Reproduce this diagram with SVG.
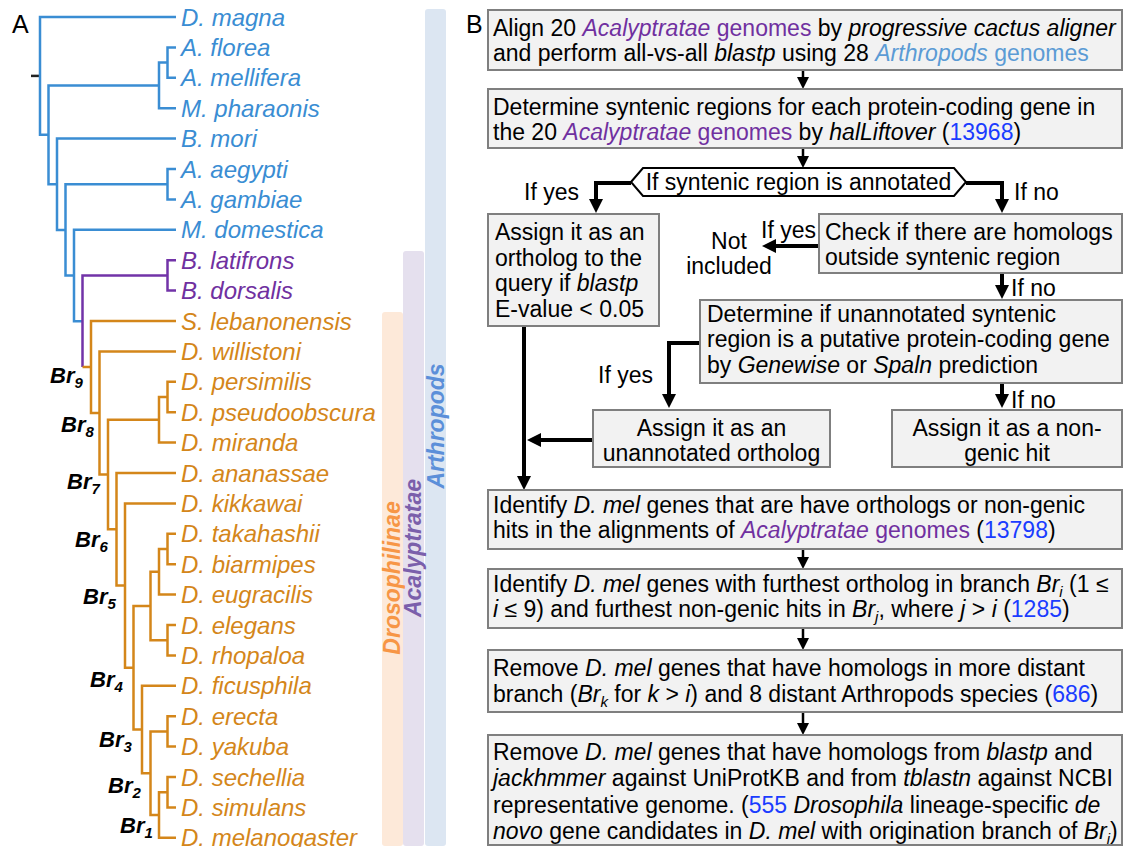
<svg xmlns="http://www.w3.org/2000/svg" width="1127" height="847" viewBox="0 0 1127 847">
<style>
.leaf{font-family:'Liberation Sans',Arial,sans-serif;font-style:italic;font-size:24px}
.b{fill:#3a8dd3}.p{fill:#7030a0}.o{fill:#d4861a}
.tb{fill:none;stroke:#3a8dd3;stroke-width:2.5}
.tp{fill:none;stroke:#7233a8;stroke-width:2.5}
.to{fill:none;stroke:#d4861a;stroke-width:2.5}
.br{font-family:'Liberation Sans',Arial,sans-serif;font-weight:bold;font-style:italic;font-size:22px;fill:#000}
.band{font-family:'Liberation Sans',Arial,sans-serif;font-weight:bold;font-style:italic;font-size:23px;text-anchor:middle}
.ft{font-family:'Liberation Sans',Arial,sans-serif;font-size:23px;fill:#000}
.mid{text-anchor:middle}
.i{font-style:italic}
.pu{fill:#7030a0}.lb{fill:#5b9bd5}.nb{fill:#1a3cff}
.box{fill:#f2f2f2;stroke:#7f7f7f;stroke-width:2}
.thin{fill:none;stroke:#000;stroke-width:2.5;marker-end:url(#ah)}
.thick{fill:none;stroke:#000;stroke-width:4;marker-end:url(#ahb)}
.lab{font-family:'Liberation Sans',Arial,sans-serif;font-size:25px;fill:#000}
</style>
<defs>
<marker id="ah" viewBox="0 0 12 12" refX="7" refY="6" markerWidth="12" markerHeight="12" markerUnits="userSpaceOnUse" orient="auto"><path d="M0,0 L12,6 L0,12 z" fill="#000"/></marker>
<marker id="ahb" viewBox="0 0 14 14" refX="8" refY="7" markerWidth="14" markerHeight="14" markerUnits="userSpaceOnUse" orient="auto"><path d="M0,0 L14,7 L0,14 z" fill="#000"/></marker>
</defs>
<rect width="1127" height="847" fill="#fff"/>

<!-- Panel labels -->
<text class="lab" x="12" y="33">A</text>
<text class="lab" x="466" y="33">B</text>

<!-- Clade bands -->
<g id="band-arthropods">
<rect x="425" y="9" width="21" height="837" rx="3" fill="#dce6f2"/>
<text class="band" fill="#5b8fd9" transform="translate(444,426) rotate(-90)">Arthropods</text>
</g>
<g id="band-acalyptratae">
<rect x="403" y="251" width="21" height="595" rx="3" fill="#e5e0ee"/>
<text class="band" fill="#7b5fab" transform="translate(421,548) rotate(-90)">Acalyptratae</text>
</g>
<g id="band-drosophilinae">
<rect x="382" y="312" width="21" height="534" rx="3" fill="#fde9d9"/>
<text class="band" fill="#f79646" transform="translate(400,578) rotate(-90)">Drosophilinae</text>
</g>

<!-- Tree -->
<g id="tree">
<path d="M31 75.9 H40" stroke="#222" stroke-width="2.5" fill="none"/>
<path class="tb" d="M176 17 H40 V134.8 H48.5"/>
<path class="tb" d="M159 85.4 H48.5 V184.2 H57"/>
<path class="tb" d="M167.5 62.6 H159 V108.2 H176"/>
<path class="tb" d="M176 47.4 H167.5 V77.8 H176"/>
<path class="tb" d="M176 138.6 H57 V229.9 H65.5"/>
<path class="tb" d="M167.5 184.2 H65.5 V275.5 H74"/>
<path class="tb" d="M176 169 H167.5 V199.4 H176"/>
<path class="tb" d="M176 229.8 H74 V321.2 H82.5"/>
<path class="tp" d="M167.5 275.4 H82.5 V367"/>
<path class="tp" d="M176 260.2 H167.5 V290.6 H176"/>
<path class="to" d="M82.5 367 H91"/>
<path class="to" d="M176 321 H91 V413 H99.5"/>
<path class="to" d="M176 351.4 H99.5 V474.5 H108"/>
<path class="to" d="M159 419.8 H108 V529.3 H116.5"/>
<path class="to" d="M167.5 397 H159 V442.6 H176"/>
<path class="to" d="M176 381.8 H167.5 V412.2 H176"/>
<path class="to" d="M176 473 H116.5 V585.6 H125"/>
<path class="to" d="M176 503.4 H125 V667.75 H133.5"/>
<path class="to" d="M150.5 606 H133.5 V729.5 H142"/>
<path class="to" d="M159 571.8 H150.5 V640.2 H167.5"/>
<path class="to" d="M167.5 549 H159 V594.6 H176"/>
<path class="to" d="M176 533.8 H167.5 V564.2 H176"/>
<path class="to" d="M176 625 H167.5 V655.4 H176"/>
<path class="to" d="M176 685.8 H142 V773.2 H150.5"/>
<path class="to" d="M167.5 731.4 H150.5 V815 H159"/>
<path class="to" d="M176 716.2 H167.5 V746.6 H176"/>
<path class="to" d="M167.5 792.2 H159 V837.8 H176"/>
<path class="to" d="M176 777 H167.5 V807.4 H176"/>
</g>

<g id="leaves">
<text class="leaf b" x="181" y="25.5">D. magna</text>
<text class="leaf b" x="181" y="55.9">A. florea</text>
<text class="leaf b" x="181" y="86.3">A. mellifera</text>
<text class="leaf b" x="181" y="116.7">M. pharaonis</text>
<text class="leaf b" x="181" y="147.1">B. mori</text>
<text class="leaf b" x="181" y="177.5">A. aegypti</text>
<text class="leaf b" x="181" y="207.9">A. gambiae</text>
<text class="leaf b" x="181" y="238.3">M. domestica</text>
<text class="leaf p" x="181" y="268.7">B. latifrons</text>
<text class="leaf p" x="181" y="299.1">B. dorsalis</text>
<text class="leaf o" x="181" y="329.5">S. lebanonensis</text>
<text class="leaf o" x="181" y="359.9">D. willistoni</text>
<text class="leaf o" x="181" y="390.3">D. persimilis</text>
<text class="leaf o" x="181" y="420.7">D. pseudoobscura</text>
<text class="leaf o" x="181" y="451.1">D. miranda</text>
<text class="leaf o" x="181" y="481.5">D. ananassae</text>
<text class="leaf o" x="181" y="511.9">D. kikkawai</text>
<text class="leaf o" x="181" y="542.3">D. takahashii</text>
<text class="leaf o" x="181" y="572.7">D. biarmipes</text>
<text class="leaf o" x="181" y="603.1">D. eugracilis</text>
<text class="leaf o" x="181" y="633.5">D. elegans</text>
<text class="leaf o" x="181" y="663.9">D. rhopaloa</text>
<text class="leaf o" x="181" y="694.3">D. ficusphila</text>
<text class="leaf o" x="181" y="724.7">D. erecta</text>
<text class="leaf o" x="181" y="755.1">D. yakuba</text>
<text class="leaf o" x="181" y="785.5">D. sechellia</text>
<text class="leaf o" x="181" y="815.9">D. simulans</text>
<text class="leaf o" x="181" y="846.3">D. melanogaster</text>
</g>

<g id="branch-labels">
<text class="br" x="50" y="383">Br<tspan font-size="15" dy="5">9</tspan></text>
<text class="br" x="61" y="432">Br<tspan font-size="15" dy="5">8</tspan></text>
<text class="br" x="67" y="489">Br<tspan font-size="15" dy="5">7</tspan></text>
<text class="br" x="75" y="547">Br<tspan font-size="15" dy="5">6</tspan></text>
<text class="br" x="83" y="604">Br<tspan font-size="15" dy="5">5</tspan></text>
<text class="br" x="90" y="687">Br<tspan font-size="15" dy="5">4</tspan></text>
<text class="br" x="99" y="747">Br<tspan font-size="15" dy="5">3</tspan></text>
<text class="br" x="108" y="793">Br<tspan font-size="15" dy="5">2</tspan></text>
<text class="br" x="120" y="833">Br<tspan font-size="15" dy="5">1</tspan></text>
</g>

<!-- Flowchart connectors -->
<g id="connectors">
<path class="thin" d="M803 70 V84"/>
<path class="thin" d="M803 148 V163"/>
<path class="thick" d="M631 183 H596 V207"/>
<path class="thick" d="M966 183 H1002 V207"/>
<path class="thick" d="M819 246 H768"/>
<path class="thick" d="M1002 273 V293"/>
<path class="thick" d="M700 343 H669 V402"/>
<path class="thick" d="M1002 383 V402"/>
<path class="thick" d="M524 326 V484"/>
<path class="thick" d="M593 440 H533"/>
<path class="thin" d="M803 549 V564"/>
<path class="thin" d="M803 628 V645"/>
<path class="thin" d="M803 712 V730"/>
<text class="ft" x="524" y="200">If yes</text>
<text class="ft" x="1014" y="200">If no</text>
<text class="ft" x="761" y="238">If yes</text>
<text class="ft mid" x="729" y="249">Not</text>
<text class="ft mid" x="729" y="274">included</text>
<text class="ft" x="1011" y="296">If no</text>
<text class="ft" x="598" y="383">If yes</text>
<text class="ft" x="1011" y="408">If no</text>
</g>

<!-- Flowchart nodes -->
<g id="n-align">
<rect class="box" x="488" y="10" width="634" height="60"/>
<text class="ft" x="493" y="36">Align 20 <tspan class="i pu">Acalyptratae</tspan><tspan class="pu"> genomes</tspan> by <tspan class="i">progressive cactus aligner</tspan></text>
<text class="ft" x="493" y="61">and perform all-vs-all <tspan class="i">blastp</tspan> using 28 <tspan class="i lb">Arthropods</tspan><tspan class="lb"> genomes</tspan></text>
</g>
<g id="n-syntenic">
<rect class="box" x="488" y="89" width="634" height="59"/>
<text class="ft" x="493" y="115">Determine syntenic regions for each protein-coding gene in</text>
<text class="ft" x="493" y="140">the 20 <tspan class="i pu">Acalyptratae</tspan><tspan class="pu"> genomes</tspan> by <tspan class="i">halLiftover</tspan> (<tspan class="nb">13968</tspan>)</text>
</g>
<g id="n-annotated">
<polygon points="631,182 643,168 954,168 966,182 954,196 643,196" fill="#fff" stroke="#000" stroke-width="2"/>
<text class="ft mid" x="798.5" y="190">If syntenic region is annotated</text>
</g>
<g id="n-ortholog">
<rect class="box" x="488" y="214" width="171" height="112"/>
<text class="ft" x="495" y="240">Assign it as an</text>
<text class="ft" x="495" y="265.5">ortholog to the</text>
<text class="ft" x="495" y="291">query if <tspan class="i">blastp</tspan></text>
<text class="ft" x="495" y="316.5">E-value &lt; 0.05</text>
</g>
<g id="n-check">
<rect class="box" x="819" y="214" width="303" height="59"/>
<text class="ft" x="825" y="240">Check if there are homologs</text>
<text class="ft" x="825" y="265">outside syntenic region</text>
</g>
<g id="n-determine">
<rect class="box" x="700" y="300" width="422" height="83"/>
<text class="ft" x="707" y="322">Determine if unannotated syntenic</text>
<text class="ft" x="707" y="347">region is a putative protein-coding gene</text>
<text class="ft" x="707" y="373">by <tspan class="i">Genewise</tspan> or <tspan class="i">Spaln</tspan> prediction</text>
</g>
<g id="n-unannotated">
<rect class="box" x="593" y="410" width="237" height="57"/>
<text class="ft mid" x="711.5" y="436">Assign it as an</text>
<text class="ft mid" x="711.5" y="461">unannotated ortholog</text>
</g>
<g id="n-nongenic">
<rect class="box" x="892" y="410" width="230" height="57"/>
<text class="ft mid" x="1007" y="436">Assign it as a non-</text>
<text class="ft mid" x="1007" y="461">genic hit</text>
</g>
<g id="n-identify1">
<rect class="box" x="488" y="490" width="634" height="59"/>
<text class="ft" x="493" y="513">Identify <tspan class="i">D. mel</tspan> genes that are have orthologs or non-genic</text>
<text class="ft" x="493" y="538">hits in the alignments of <tspan class="i pu">Acalyptratae</tspan><tspan class="pu"> genomes</tspan> (<tspan class="nb">13798</tspan>)</text>
</g>
<g id="n-identify2">
<rect class="box" x="488" y="569" width="634" height="59"/>
<text class="ft" x="493" y="592">Identify <tspan class="i">D. mel</tspan> genes with furthest ortholog in branch <tspan class="i">Br</tspan><tspan class="i" font-size="15" dy="5">i</tspan><tspan dy="-5"> (1 ≤</tspan></text>
<text class="ft" x="493" y="617"><tspan class="i">i</tspan> ≤ 9) and furthest non-genic hits in <tspan class="i">Br</tspan><tspan class="i" font-size="15" dy="5">j</tspan><tspan dy="-5">, where </tspan><tspan class="i">j</tspan> &gt; <tspan class="i">i</tspan> (<tspan class="nb">1285</tspan>)</text>
</g>
<g id="n-remove1">
<rect class="box" x="488" y="650" width="634" height="62"/>
<text class="ft" x="493" y="676">Remove <tspan class="i">D. mel</tspan> genes that have homologs in more distant</text>
<text class="ft" x="493" y="702">branch (<tspan class="i">Br</tspan><tspan class="i" font-size="15" dy="5">k</tspan><tspan dy="-5"> for </tspan><tspan class="i">k</tspan> &gt; <tspan class="i">i</tspan>) and 8 distant Arthropods species (<tspan class="nb">686</tspan>)</text>
</g>
<g id="n-remove2">
<rect class="box" x="488" y="735" width="634" height="110"/>
<text class="ft" x="493" y="760">Remove <tspan class="i">D. mel</tspan> genes that have homologs from <tspan class="i">blastp</tspan> and</text>
<text class="ft" x="493" y="786"><tspan class="i">jackhmmer</tspan> against UniProtKB and from <tspan class="i">tblastn</tspan> against NCBI</text>
<text class="ft" x="493" y="813">representative genome. (<tspan class="nb">555</tspan> <tspan class="i">Drosophila</tspan> lineage-specific <tspan class="i">de</tspan></text>
<text class="ft" x="493" y="839"><tspan class="i">novo</tspan> gene candidates in <tspan class="i">D. mel</tspan> with origination branch of <tspan class="i">Br</tspan><tspan class="i" font-size="15" dy="5">i</tspan><tspan dy="-5">)</tspan></text>
</g>
</svg>
